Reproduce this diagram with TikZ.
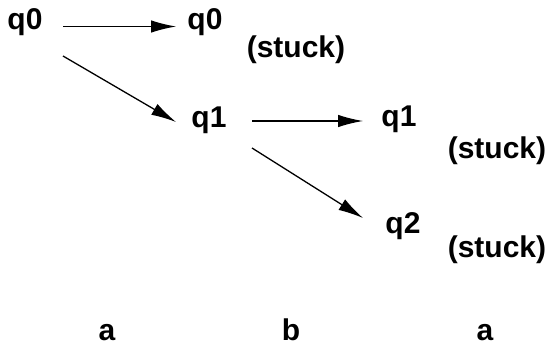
\documentclass[tikz,border=0pt]{standalone}
\usepackage{fontspec}
\setmainfont{Liberation Sans}
\usetikzlibrary{arrows.meta}

\begin{document}
\begin{tikzpicture}[x=1pt,y=-1pt,
  st/.style={inner sep=0pt,anchor=base,font=\fontsize{30}{34}\selectfont\bfseries},
  sym/.style={st},
  edge/.style={line width=1.3pt,-{Latex[length=25pt,width=12.5pt]}}]
\useasboundingbox (0,0) rectangle (552,345);
%% states
\node[st] (s0)  at (25,30)   {q0};
\node[st] (s00) at (205,30)  {q0};
\node[st] (s01) at (209,128) {q1};
\node[st] (s011) at (399,126) {q1};
\node[st] (s012) at (403,233) {q2};
%% dead ends
\node[st] (k0)  at (296,58)  {(stuck)};
\node[st] (k1)  at (497,158) {(stuck)};
\node[st] (k2)  at (497,257) {(stuck)};
%% input symbols
\node[sym] (a1) at (107,340) {a};
\node[sym] (b2) at (291,340) {b};
\node[sym] (a3) at (485,340) {a};
%% moves
\draw[edge] ([shift={(38,-3.5)}]s0.base) -- ([shift={(-29,-3.5)}]s00.base);
\draw[edge] ([shift={(38,26)}]s0.base) -- ([shift={(-33,-6)}]s01.base);
\draw[edge] ([shift={(43,-7)}]s01.base) -- ([shift={(-36,-5)}]s011.base);
\draw[edge] ([shift={(43,20)}]s01.base) -- ([shift={(-40,-15)}]s012.base);
\end{tikzpicture}
\end{document}
